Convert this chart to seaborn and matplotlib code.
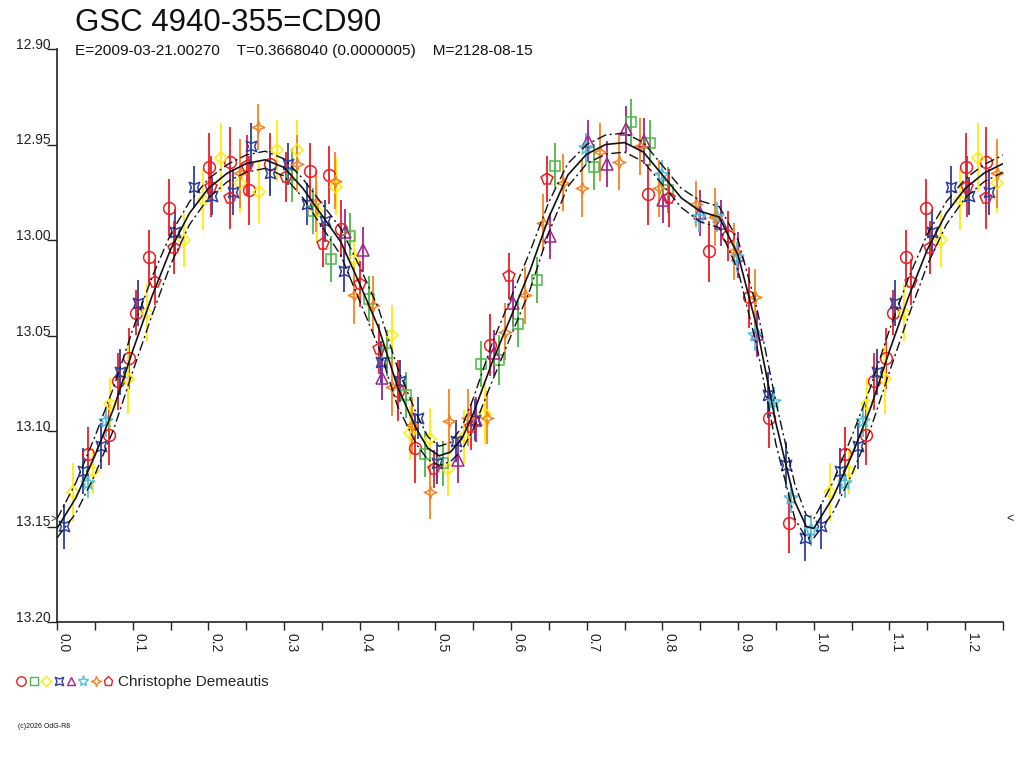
import numpy as np
import pandas as pd
import matplotlib
matplotlib.use("Agg")
import matplotlib.pyplot as plt
import seaborn as sns
from matplotlib.legend_handler import HandlerTuple
from matplotlib.lines import Line2D
from matplotlib.ticker import MultipleLocator

# light curve fit (phase, mag) and half width of the dash-dot band
curve_phase = [0.000, 0.025, 0.050, 0.075, 0.100, 0.125, 0.150, 0.175, 0.200, 0.225,
               0.250, 0.275, 0.300, 0.325, 0.350, 0.375, 0.400, 0.425, 0.450, 0.475,
               0.490, 0.505, 0.520, 0.535, 0.550, 0.575, 0.600, 0.625, 0.650, 0.675,
               0.700, 0.725, 0.750, 0.775, 0.800, 0.825, 0.850, 0.875, 0.900, 0.925,
               0.950, 0.975, 0.990, 1.000]
curve_mag = [13.151, 13.135, 13.113, 13.088, 13.058, 13.030, 13.005, 12.986, 12.973, 12.965,
             12.960, 12.958, 12.962, 12.973, 12.987, 13.001, 13.023, 13.046, 13.077, 13.099,
             13.109, 13.113, 13.111, 13.104, 13.091, 13.064, 13.040, 13.016, 12.988, 12.966,
             12.955, 12.950, 12.949, 12.954, 12.966, 12.978, 12.985, 12.988, 13.008, 13.046,
             13.096, 13.137, 13.150, 13.151]
curve_band = [0.005, 0.008, 0.010, 0.011, 0.011, 0.010, 0.008, 0.006, 0.005, 0.0045,
              0.0045, 0.0045, 0.0045, 0.005, 0.006, 0.007, 0.009, 0.010, 0.010, 0.008,
              0.006, 0.005, 0.005, 0.006, 0.008, 0.010, 0.010, 0.010, 0.008, 0.006,
              0.005, 0.005, 0.005, 0.005, 0.005, 0.005, 0.0055, 0.0055, 0.008, 0.010,
              0.011, 0.009, 0.006, 0.005]

# observations: phase, magnitude, error
red_circle_phase = [0.041, 0.069, 0.080, 0.095, 0.104, 0.122, 0.148, 0.201, 0.228, 0.254, 0.281,
                    0.334, 0.359, 0.375, 0.450, 0.473, 0.572, 0.781, 0.861, 0.887, 0.915, 0.941, 0.967]
red_circle_mag = [13.112, 13.102, 13.074, 13.062, 13.038, 13.009, 12.983, 12.962, 12.959, 12.974, 12.960,
                  12.964, 12.966, 12.994, 13.079, 13.109, 13.055, 12.976, 13.006, 12.998, 13.030, 13.093, 13.148]
red_circle_err = [0.014, 0.016, 0.015, 0.016, 0.012, 0.014, 0.015, 0.018, 0.018, 0.018, 0.016,
                  0.015, 0.015, 0.015, 0.016, 0.018, 0.016, 0.016, 0.016, 0.013, 0.016, 0.016, 0.016]

green_square_phase = [0.311, 0.338, 0.362, 0.387, 0.412, 0.436, 0.461, 0.486, 0.510, 0.560,
                      0.584, 0.609, 0.634, 0.658, 0.709, 0.758, 0.783, 0.808]
green_square_mag = [12.966, 12.985, 13.010, 12.998, 13.031, 13.059, 13.081, 13.112, 13.117, 13.065,
                    13.063, 13.044, 13.021, 12.961, 12.962, 12.938, 12.949, 12.974]
green_square_err = [0.014, 0.012, 0.012, 0.012, 0.012, 0.012, 0.012, 0.012, 0.012, 0.012,
                    0.013, 0.012, 0.012, 0.012, 0.012, 0.012, 0.012, 0.012]

yellow_diamond_phase = [0.021, 0.047, 0.070, 0.094, 0.119, 0.168, 0.193, 0.217, 0.242, 0.267, 0.291,
                        0.317, 0.344, 0.368, 0.392, 0.442, 0.466, 0.493, 0.516, 0.538, 0.566]
yellow_diamond_mag = [13.132, 13.121, 13.086, 13.073, 13.038, 13.000, 12.979, 12.957, 12.970, 12.975, 12.953,
                      12.953, 12.985, 12.972, 13.010, 13.050, 13.101, 13.104, 13.120, 13.103, 13.091]
yellow_diamond_err = [0.015, 0.012, 0.014, 0.018, 0.015, 0.014, 0.016, 0.018, 0.016, 0.016, 0.016,
                      0.016, 0.016, 0.015, 0.014, 0.016, 0.014, 0.016, 0.014, 0.014, 0.016]

blue_bowtie_phase = [0.009, 0.034, 0.058, 0.083, 0.107, 0.156, 0.181, 0.205, 0.232, 0.256, 0.281, 0.305,
                     0.330, 0.354, 0.379, 0.428, 0.453, 0.477, 0.502, 0.527, 0.552, 0.939, 0.963, 0.988]
blue_bowtie_mag = [13.150, 13.121, 13.108, 13.069, 13.033, 12.996, 12.972, 12.977, 12.975, 12.951, 12.965, 12.960,
                   12.981, 12.990, 13.016, 13.064, 13.074, 13.093, 13.117, 13.105, 13.094, 13.081, 13.118, 13.156]
blue_bowtie_err = [0.012, 0.012, 0.012, 0.012, 0.012, 0.012, 0.011, 0.010, 0.012, 0.012, 0.012, 0.011,
                   0.011, 0.011, 0.011, 0.011, 0.011, 0.011, 0.011, 0.011, 0.011, 0.012, 0.012, 0.012]

purple_triangle_phase = [0.381, 0.404, 0.430, 0.530, 0.554, 0.578, 0.603, 0.652, 0.702,
                         0.727, 0.752, 0.776, 0.801, 0.850, 0.877, 0.900, 0.925]
purple_triangle_mag = [12.996, 13.005, 13.072, 13.115, 13.094, 13.059, 13.033, 12.998, 12.948,
                       12.960, 12.942, 12.948, 12.979, 12.986, 12.991, 13.008, 13.049]
purple_triangle_err = [0.012, 0.012, 0.012, 0.012, 0.012, 0.012, 0.012, 0.012, 0.011,
                       0.012, 0.012, 0.012, 0.012, 0.012, 0.012, 0.012, 0.012]

cyan_star_phase = [0.041, 0.065, 0.699, 0.799, 0.848, 0.872, 0.898, 0.922, 0.947, 0.970, 0.996]
cyan_star_mag = [13.127, 13.095, 12.952, 12.966, 12.988, 12.988, 13.009, 13.050, 13.085, 13.135, 13.152]
cyan_star_err = [0.008, 0.008, 0.008, 0.008, 0.008, 0.008, 0.008, 0.008, 0.008, 0.008, 0.008]

orange_star_phase = [0.242, 0.266, 0.317, 0.342, 0.367, 0.392, 0.417, 0.442, 0.469, 0.493, 0.518, 0.543, 0.568,
                     0.592, 0.619, 0.642, 0.668, 0.694, 0.718, 0.743, 0.770, 0.795, 0.845, 0.870, 0.895, 0.922]
orange_star_mag = [12.965, 12.941, 12.960, 12.980, 12.969, 13.029, 13.034, 13.077, 13.097, 13.132, 13.095, 13.093, 13.093,
                   13.048, 13.029, 12.991, 12.970, 12.973, 12.954, 12.959, 12.951, 12.973, 12.981, 12.988, 13.006, 13.030]
orange_star_err = [0.018, 0.012, 0.015, 0.016, 0.015, 0.015, 0.015, 0.015, 0.015, 0.014, 0.017, 0.015, 0.014,
                   0.015, 0.015, 0.015, 0.015, 0.015, 0.015, 0.015, 0.015, 0.015, 0.012, 0.015, 0.015, 0.015]

red_pentagon_phase = [0.129, 0.154, 0.203, 0.228, 0.251, 0.302, 0.351, 0.400, 0.425, 0.498, 0.547, 0.597, 0.648, 0.809]
red_pentagon_mag = [13.022, 13.004, 12.972, 12.978, 12.961, 12.967, 13.002, 13.023, 13.057, 13.120, 13.098, 13.019,
                    12.968, 12.978]
red_pentagon_err = [0.012, 0.014, 0.016, 0.016, 0.016, 0.013, 0.012, 0.012, 0.013, 0.010, 0.012, 0.012, 0.012, 0.015]

observer = "Christophe Demeautis"
title = "GSC 4940-355=CD90"
subtitle = "E=2009-03-21.00270    T=0.3668040 (0.0000005)    M=2128-08-15"

bowtie = [(-1, -1), (0, -0.6), (1, -1), (0.6, 0), (1, 1), (0, 0.6), (-1, 1), (-0.6, 0), (-1, -1)]
four_star = [(0, 1), (0.28, 0.28), (1, 0), (0.28, -0.28), (0, -1), (-0.28, -0.28), (-1, 0), (-0.28, 0.28), (0, 1)]

series = [
    (red_circle_phase, red_circle_mag, red_circle_err, "o", "#ee1c24", 8.5),
    (green_square_phase, green_square_mag, green_square_err, "s", "#4cb848", 7),
    (yellow_diamond_phase, yellow_diamond_mag, yellow_diamond_err, "D", "#ffec00", 6.5),
    (blue_bowtie_phase, blue_bowtie_mag, blue_bowtie_err, bowtie, "#2e3f9e", 7.5),
    (purple_triangle_phase, purple_triangle_mag, purple_triangle_err, "^", "#a3238e", 8),
    (cyan_star_phase, cyan_star_mag, cyan_star_err, "*", "#4fc3d9", 10),
    (orange_star_phase, orange_star_mag, orange_star_err, four_star, "#f7821e", 9),
    (red_pentagon_phase, red_pentagon_mag, red_pentagon_err, "p", "#ee1c24", 8.5),
]

sns.set_theme(style="white")
plt.rcParams["font.family"] = ["Liberation Sans", "DejaVu Sans"]

fig = plt.figure(figsize=(10.24, 7.68), dpi=100)
ax = fig.add_axes([57 / 1024, 1 - 622 / 768, 946 / 1024, 573 / 768])

# points, repeated after phase 1 up to 1.25
handles = []
for ph, mg, er, mk, col, ms in series:
    ph = np.array(ph)
    mg = np.array(mg)
    er = np.array(er)
    wrap = ph < 0.25
    ph_all = np.concatenate([ph, ph[wrap] + 1])
    mg_all = np.concatenate([mg, mg[wrap]])
    er_all = np.concatenate([er, er[wrap]])
    ax.errorbar(ph_all, mg_all, yerr=er_all, fmt="none", ecolor=col, elinewidth=1.3, zorder=2)
    ax.plot(ph_all, mg_all, linestyle="none", marker=mk, markersize=ms, mfc="none",
            mec=col, mew=1.1, zorder=3)
    handles.append(Line2D([], [], linestyle="none", marker=mk, markersize=ms * 0.8, mfc="none",
                          mec=col, mew=1.0))

# fitted curve and band
cp = np.array(curve_phase)
cm = np.array(curve_mag)
cb = np.array(curve_band)
keep = cp <= 0.25
fit = pd.DataFrame({
    "phase": np.concatenate([cp, cp[keep] + 1]),
    "mag": np.concatenate([cm, cm[keep]]),
    "band": np.concatenate([cb, cb[keep]]),
})
fit = fit.drop_duplicates("phase").sort_values("phase")
sns.lineplot(data=fit, x="phase", y="mag", color="#111111", lw=1.2, sort=False,
             estimator=None, ax=ax, zorder=4)
ax.plot(fit["phase"], fit["mag"] - fit["band"], color="#111111", lw=1.0,
        linestyle=(0, (7, 2.5, 1.5, 2.5)), zorder=4)
ax.plot(fit["phase"], fit["mag"] + fit["band"], color="#111111", lw=1.0,
        linestyle=(0, (7, 2.5, 1.5, 2.5)), zorder=4)

ax.set_xlim(0, 1.25)
ax.set_ylim(13.20, 12.90)
ax.set_xlabel("")
ax.set_ylabel("")
ax.set_yticks(np.arange(12.90, 13.201, 0.05))
ax.set_yticklabels([f"{v:.2f}" for v in np.arange(12.90, 13.201, 0.05)])
ax.set_xticks(np.arange(0, 1.21, 0.1))
ax.set_xticklabels([f"{v:.1f}" for v in np.arange(0, 1.21, 0.1)])
ax.xaxis.set_minor_locator(MultipleLocator(0.05))
ax.tick_params(axis="x", which="both", direction="out", length=6, width=1, color="#222222",
               bottom=True, labelsize=10, pad=2, labelcolor="#222222")
ax.tick_params(axis="y", which="major", direction="out", length=7, width=1, color="#222222",
               left=True, labelsize=10, pad=-2.5, labelcolor="#222222")
plt.setp(ax.get_xticklabels(), rotation=-90, ha="left", va="top")
plt.setp(ax.get_yticklabels(), va="baseline")
for s in ["top", "right"]:
    ax.spines[s].set_visible(False)
for s in ["left", "bottom"]:
    ax.spines[s].set_color("#222222")
    ax.spines[s].set_linewidth(1.2)
ax.grid(False)

# mean level marks on both sides
ax.text(-0.0008, 13.146, ">", ha="right", va="center", fontsize=7, color="#222222", clip_on=False)
ax.text(1.254, 13.146, "<", ha="left", va="center", fontsize=9, color="#222222", clip_on=False)

fig.text(75 / 1024, 1 - 31 / 768, title, fontsize=22.5, color="#111111", va="baseline")
fig.text(75 / 1024, 1 - 55 / 768, subtitle, fontsize=11.1, color="#111111", va="baseline")

fig.legend([tuple(handles)], [observer], handler_map={tuple: HandlerTuple(ndivide=None, pad=0.2)},
           loc="center left", bbox_to_anchor=(3 / 1024, 1 - 682 / 768), frameon=False,
           handlelength=6.3, handletextpad=0.35, fontsize=11)
fig.text(18 / 1024, 1 - 728 / 768, "(c)2026 OdG-R8", fontsize=5, color="#111111")

fig.savefig("out.png", dpi=100)
